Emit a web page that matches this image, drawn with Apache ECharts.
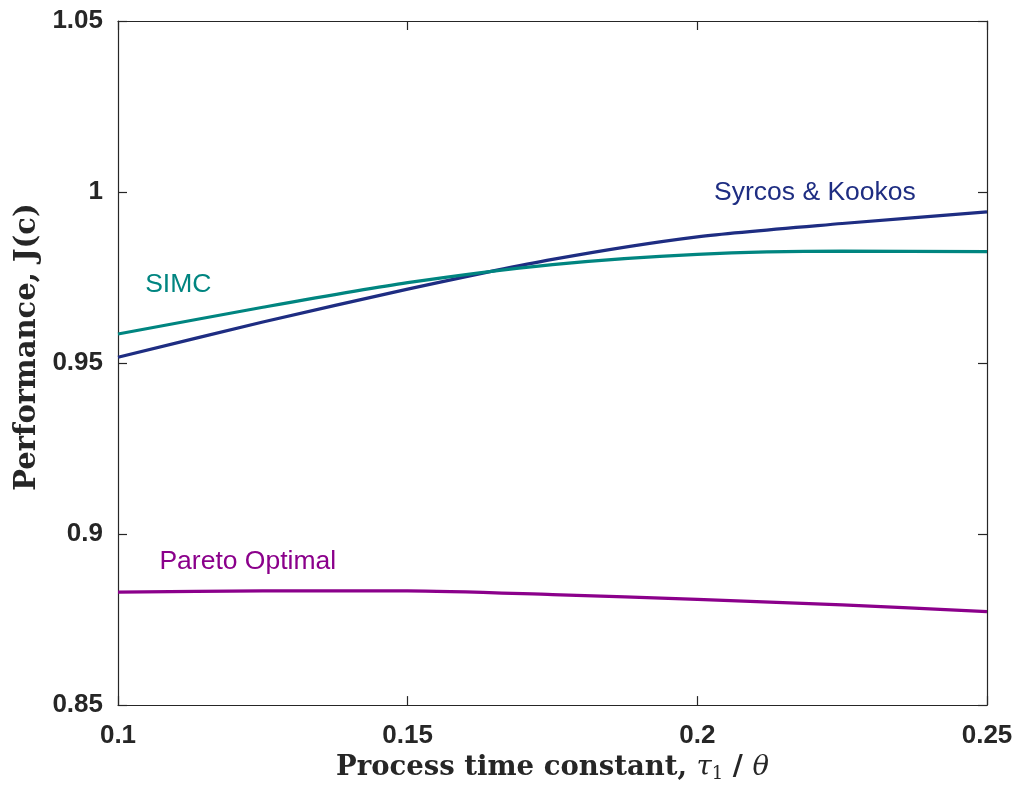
<!DOCTYPE html>
<html>
<head>
<meta charset="utf-8">
<style>
  html, body { margin: 0; padding: 0; background: #fff; }
  #chart { width: 1018px; height: 788px; }
</style>
<script src="https://cdn.jsdelivr.net/npm/echarts@6/dist/echarts.min.js"></script>
</head>
<body>
<div id="chart"></div>
<script>
// 横轴:过程时间常数 τ1/θ
const tau = [0.1, 0.125, 0.15, 0.175, 0.2, 0.225, 0.25];
// 三条性能曲线 J(c)
const syrcos = [0.9517, 0.9620, 0.9716, 0.9803, 0.9869, 0.9908, 0.9942];
const simc   = [0.9585, 0.9663, 0.9735, 0.9788, 0.9818, 0.9827, 0.9826];
const pareto = [0.8830, 0.8834, 0.8834, 0.8823, 0.8809, 0.8793, 0.8773];
// 曲线旁的文字标注 [x, y]
const labelSyrcos = [0.2203, 0.9999];
const labelSimc   = [0.1104, 0.9730];
const labelPareto = [0.1224, 0.8920];

const AX = '#262626';
const NAVY = '#1E2D82', TEAL = '#008580', PURPLE = '#8B008B';

function pairs(ys) { return tau.map((x, i) => [x, ys[i]]); }

// 标注用一个透明的小点承载文字
function tagOf(name, pos, color) {
  return {
    symbol: 'rect', symbolSize: 1, silent: true,
    itemStyle: { color: 'rgba(0,0,0,0)' },
    label: { show: true, position: 'inside', formatter: name, color,
      fontFamily: 'Liberation Sans, Arial, sans-serif', fontSize: 26.5 },
    data: [{ coord: pos }],
  };
}

function line(name, ys, color, pos) {
  return {
    name, type: 'line', smooth: 0.25, symbol: 'none', data: pairs(ys),
    lineStyle: { color, width: 3.2 }, itemStyle: { color },
    markPoint: tagOf(name, pos, color),
    z: 3,
  };
}

const tickCommon = {
  axisLine: { show: true, lineStyle: { color: AX, width: 1.2 } },
  axisTick: { show: true, inside: true, length: 9, lineStyle: { color: AX, width: 1.2 } },
  splitLine: { show: false },
};

const chart = echarts.init(document.getElementById('chart'));
chart.setOption({
  animation: false,
  backgroundColor: '#fff',
  grid: { left: 118, right: 31, top: 21, bottom: 81, show: false },
  xAxis: [
    { type: 'value', min: 0.1, max: 0.25, interval: 0.05, position: 'bottom', ...tickCommon,
      axisLabel: { color: AX, fontFamily: 'Liberation Sans, Arial, sans-serif', fontWeight: 'bold', fontSize: 26, margin: 18,
        formatter: (v) => String(+v.toFixed(2)) },
      name: '{b|Process time constant, }{i|τ}{s|1}{b| / }{i|θ}',
      nameLocation: 'middle', nameGap: 46,
      nameTextStyle: { rich: {
        b: { fontFamily: 'DejaVu Serif, serif', fontWeight: 'bold', fontSize: 27.5, color: AX },
        i: { fontFamily: 'DejaVu Serif, serif', fontStyle: 'italic', fontSize: 27.5, color: AX },
        s: { fontFamily: 'DejaVu Serif, serif', fontSize: 18, color: AX, verticalAlign: 'bottom', padding: [12, 0, 0, 0] },
      } } },
    { type: 'value', min: 0.1, max: 0.25, interval: 0.05, position: 'top', ...tickCommon,
      axisLabel: { show: false } },
  ],
  yAxis: [
    { type: 'value', min: 0.85, max: 1.05, interval: 0.05, position: 'left', ...tickCommon,
      axisLabel: { color: AX, fontFamily: 'Liberation Sans, Arial, sans-serif', fontWeight: 'bold', fontSize: 26, margin: 15,
        formatter: (v) => String(+v.toFixed(2)) },
      name: 'Performance, J(c)', nameLocation: 'middle', nameGap: 74,
      nameTextStyle: { fontFamily: 'DejaVu Serif, serif', fontWeight: 'bold', fontSize: 29, color: AX,
        padding: [0, 0, 0, 32] } },
    { type: 'value', min: 0.85, max: 1.05, interval: 0.05, position: 'right', ...tickCommon,
      axisLabel: { show: false } },
  ],
  series: [
    line('Syrcos & Kookos', syrcos, NAVY, labelSyrcos),
    line('SIMC', simc, TEAL, labelSimc),
    line('Pareto Optimal', pareto, PURPLE, labelPareto),
  ],
});
</script>
</body>
</html>
